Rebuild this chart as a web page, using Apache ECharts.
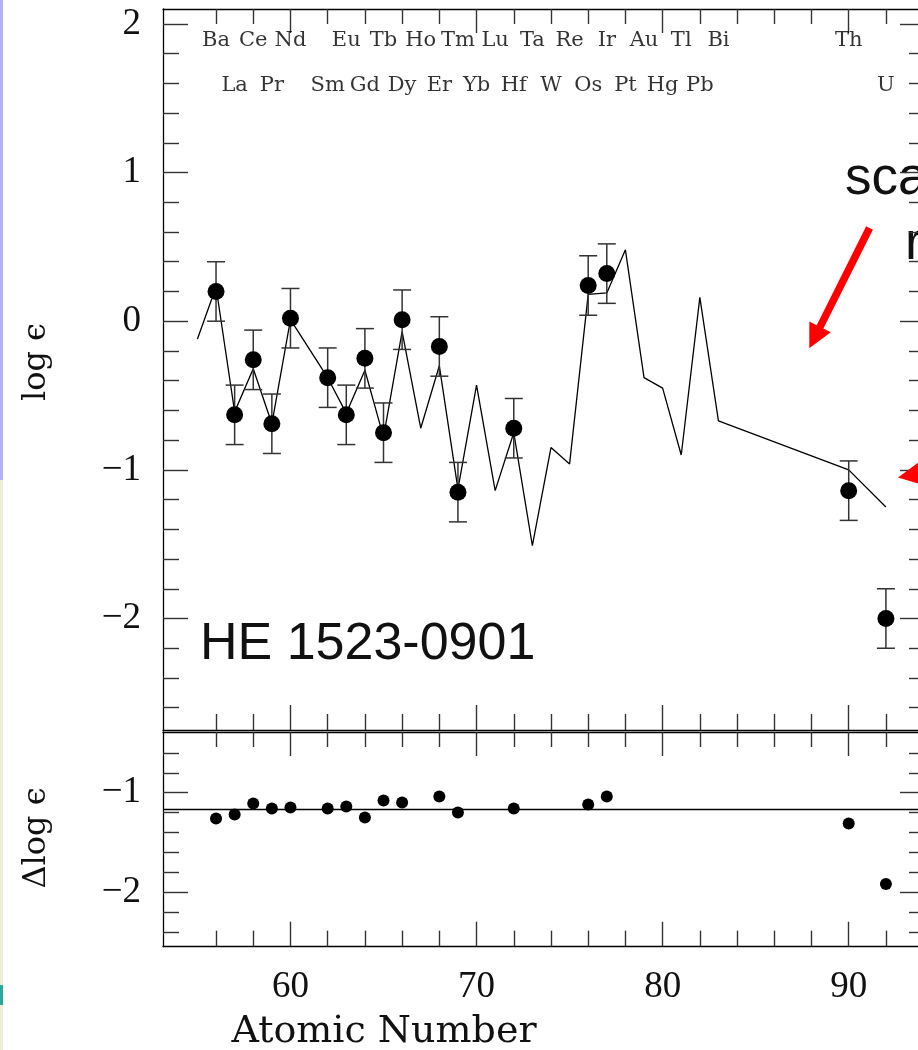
<!DOCTYPE html>
<html>
<head>
<meta charset="utf-8">
<script src="https://cdn.jsdelivr.net/npm/echarts@6/dist/echarts.min.js"></script>
<style>
  html, body { margin: 0; padding: 0; background: #fff; }
  #chart { width: 918px; height: 1050px; }
</style>
</head>
<body>
<div id="chart"></div>
<script>
// ---- Observed abundances of HE 1523-0901 ----
const obsElements = ['Ba','La','Ce','Pr','Nd','Sm','Eu','Gd','Tb','Dy','Er','Tm','Hf','Os','Ir','Th','U'];
const obsZ        = [56, 57, 58, 59, 60, 62, 63, 64, 65, 66, 68, 69, 72, 76, 77, 90, 92];
const obsLogEps   = [0.20,-0.63,-0.26,-0.69,0.02,-0.38,-0.63,-0.25,-0.75,0.01,-0.17,-1.15,-0.72,0.24,0.32,-1.14,-2.00];
const obsErr      = [0.20,0.20,0.20,0.20,0.20,0.20,0.20,0.20,0.20,0.20,0.20,0.20,0.20,0.20,0.20,0.20,0.20];

// ---- Residuals (observed minus scaled solar r-process) ----
const deltaLogEps = [-1.26,-1.22,-1.11,-1.16,-1.15,-1.16,-1.14,-1.25,-1.08,-1.10,-1.04,-1.20,-1.16,-1.12,-1.04,-1.31,-1.92];
const meanOffset  = -1.17;

// ---- Scaled solar r-process pattern ----
const solarZ      = [55, 56, 57, 58, 59, 60, 62, 63, 64, 65, 66, 67, 68, 69, 70, 71, 72, 73, 74, 75, 76, 77, 78, 79, 80, 81, 82, 83, 90, 92];
const solarLogEps = [-0.12,0.23,-0.61,-0.32,-0.69,0.01,-0.38,-0.62,-0.33,-0.78,-0.07,-0.72,-0.30,-1.13,-0.43,-1.14,-0.75,-1.51,-0.85,-0.96,0.18,0.19,0.48,-0.38,-0.45,-0.90,0.16,-0.67,-1.00,-1.25];

// ---- Element names along the top of the upper panel (two staggered rows) ----
const labelRow1     = ['Ba','Ce','Nd','Eu','Tb','Ho','Tm','Lu','Ta','Re','Ir','Au','Tl','Bi','Th'];
const labelRow1Z    = [56, 58, 60, 63, 65, 67, 69, 71, 73, 75, 77, 79, 81, 83, 90];
const labelRow2     = ['La','Pr','Sm','Gd','Dy','Er','Yb','Hf','W','Os','Pt','Hg','Pb','U'];
const labelRow2Z    = [57, 59, 62, 64, 66, 68, 70, 72, 74, 76, 78, 80, 82, 92];

// ---- Axis ticks ----
const xMajor     = [60, 70, 80, 90];
const xMinor     = [56, 58, 62, 64, 66, 68, 72, 74, 76, 78, 82, 84, 86, 88, 92];
const topYMajor  = [-2, -1, 0, 1, 2];
const topYMinor  = [-2.6,-2.4,-2.2,-1.8,-1.6,-1.4,-1.2,-0.8,-0.6,-0.4,-0.2,0.2,0.4,0.6,0.8,1.2,1.4,1.6,1.8];
const botYMajor  = [-2, -1];
const botYMinor  = [-2.4,-2.2,-1.8,-1.6,-1.4,-1.2,-0.8,-0.6];

// ---- Axis ranges ----
const X_RANGE   = [53.15, 94.1];
const TOP_RANGE = [-2.75, 2.1];
const BOT_RANGE = [-2.55, -0.39];
const ROW1_Y = 1.887, ROW2_Y = 1.587;   // element-name rows, in log eps units

const INK = '#111';
const TICK = '#333';
const NUM_FONT = 'Liberation Serif';
const TXT_FONT = 'DejaVu Serif';
const minusFmt = v => (v < 0 ? '\u2212' + Math.abs(v) : String(v));

function axisBase(gridIndex, range) {
  return {
    gridIndex, type: 'value', min: range[0], max: range[1],
    splitLine: { show: false },
    axisLine: { show: false, onZero: false },
    axisLabel: { show: false }
  };
}
function tickAxis(gridIndex, range, position, ticks, length, withLine, labels) {
  const a = axisBase(gridIndex, range);
  a.position = position;
  a.axisTick = { show: true, inside: true, length, customValues: ticks, lineStyle: { color: TICK, width: 1.4 } };
  if (withLine) a.axisLine = { show: true, onZero: false, lineStyle: { color: '#000', width: 1.3 } };
  if (labels) a.axisLabel = Object.assign({ show: true, customValues: ticks }, labels);
  return a;
}

const xLabelStyle = { fontFamily: NUM_FONT, fontSize: 37, color: INK, margin: 22, formatter: minusFmt };
const yLabelStyle = { fontFamily: NUM_FONT, fontSize: 37, color: INK, margin: 22, formatter: minusFmt };

const xAxes = [];
const yAxes = [];
[0, 1].forEach(g => {
  xAxes.push(tickAxis(g, X_RANGE, 'bottom', xMajor, 25, true, g === 1 ? xLabelStyle : null));
  xAxes.push(tickAxis(g, X_RANGE, 'bottom', xMinor, 16, false, null));
  xAxes.push(tickAxis(g, X_RANGE, 'top', xMajor, 24, true, null));
  xAxes.push(tickAxis(g, X_RANGE, 'top', xMinor, 15, false, null));
  const yr = g === 0 ? TOP_RANGE : BOT_RANGE;
  const maj = g === 0 ? topYMajor : botYMajor;
  const min = g === 0 ? topYMinor : botYMinor;
  yAxes.push(tickAxis(g, yr, 'left', maj, 25, true, yLabelStyle));
  yAxes.push(tickAxis(g, yr, 'left', min, 16, false, null));
  yAxes.push(tickAxis(g, yr, 'right', maj, 25, true, null));
  yAxes.push(tickAxis(g, yr, 'right', min, 16, false, null));
});

function errorBars(params, api) {
  const x = api.value(0), y = api.value(1), e = api.value(2);
  const hi = api.coord([x, y + e]);
  const lo = api.coord([x, y - e]);
  const half = 9;
  const st = { stroke: '#333', lineWidth: 1.5 };
  return {
    type: 'group',
    children: [
      { type: 'line', shape: { x1: hi[0], y1: hi[1], x2: lo[0], y2: lo[1] }, style: st },
      { type: 'line', shape: { x1: hi[0] - half, y1: hi[1], x2: hi[0] + half, y2: hi[1] }, style: st },
      { type: 'line', shape: { x1: lo[0] - half, y1: lo[1], x2: lo[0] + half, y2: lo[1] }, style: st }
    ]
  };
}

function arrowPoints(tail, tip, shaftW, headL, headW) {
  const dx = tip[0] - tail[0], dy = tip[1] - tail[1];
  const L = Math.hypot(dx, dy);
  const ux = dx / L, uy = dy / L, px = -uy, py = ux;
  const bx = tip[0] - ux * headL, by = tip[1] - uy * headL;
  return [
    [tail[0] + px * shaftW / 2, tail[1] + py * shaftW / 2],
    [bx + px * shaftW / 2, by + py * shaftW / 2],
    [bx + px * headW / 2, by + py * headW / 2],
    [tip[0], tip[1]],
    [bx - px * headW / 2, by - py * headW / 2],
    [bx - px * shaftW / 2, by - py * shaftW / 2],
    [tail[0] - px * shaftW / 2, tail[1] - py * shaftW / 2]
  ];
}

const labelData = labelRow1.map((s, i) => [labelRow1Z[i], ROW1_Y, s])
  .concat(labelRow2.map((s, i) => [labelRow2Z[i], ROW2_Y, s]));

const chart = echarts.init(document.getElementById('chart'), null, { renderer: 'canvas' });
chart.setOption({
  animation: false,
  backgroundColor: '#ffffff',
  grid: [
    { left: 163, top: 9, width: 762, height: 721, containLabel: false, outerBoundsMode: 'none' },
    { left: 163, top: 732, width: 762, height: 214.7, containLabel: false, outerBoundsMode: 'none' }
  ],
  xAxis: xAxes,
  yAxis: yAxes,
  series: [
    {
      name: 'scaled solar r-process',
      type: 'line', xAxisIndex: 0, yAxisIndex: 0,
      data: solarZ.map((z, i) => [z, solarLogEps[i]]),
      showSymbol: false, symbol: 'none', clip: true,
      lineStyle: { color: '#000', width: 1.3 },
      z: 2
    },
    {
      name: 'errors',
      type: 'custom', xAxisIndex: 0, yAxisIndex: 0,
      data: obsZ.map((z, i) => [z, obsLogEps[i], obsErr[i]]),
      renderItem: errorBars, encode: { x: 0, y: 1 }, clip: true,
      z: 3
    },
    {
      name: 'observed',
      type: 'scatter', xAxisIndex: 0, yAxisIndex: 0,
      data: obsZ.map((z, i) => [z, obsLogEps[i], obsElements[i]]),
      symbol: 'circle', symbolSize: 17,
      itemStyle: { color: '#000', opacity: 1 },
      z: 4
    },
    {
      name: 'element names',
      type: 'scatter', xAxisIndex: 0, yAxisIndex: 0,
      data: labelData,
      symbolSize: 0, silent: true,
      label: {
        show: true, position: 'inside',
        formatter: p => p.data[2],
        fontFamily: TXT_FONT, fontSize: 21, color: '#000'
      },
      z: 5
    },
    {
      name: 'residuals',
      type: 'scatter', xAxisIndex: 4, yAxisIndex: 4,
      data: obsZ.map((z, i) => [z, deltaLogEps[i]]),
      symbol: 'circle', symbolSize: 12,
      itemStyle: { color: '#000', opacity: 1 },
      markLine: {
        silent: true, symbol: ['none', 'none'],
        label: { show: false },
        lineStyle: { color: '#000', width: 1.3, type: 'solid' },
        data: [{ yAxis: meanOffset }]
      },
      z: 4
    }
  ],
  graphic: [
    // thin coloured strips along the left edge of the slide
    { type: 'rect', left: 0, top: 0, shape: { width: 3, height: 480 }, style: { fill: '#b4b4f4' }, silent: true },
    { type: 'rect', left: 0, top: 480, shape: { width: 3, height: 570 }, style: { fill: '#eeeed2' }, silent: true },
    { type: 'rect', left: 0, top: 985, shape: { width: 3, height: 20 }, style: { fill: '#2aa8a0' }, silent: true },
    // axis titles
    { type: 'text', x: 37, y: 362, rotation: Math.PI / 2, silent: true,
      style: { text: 'log \u03f5', font: '32px "' + TXT_FONT + '"', fill: INK, align: 'center', verticalAlign: 'middle' } },
    { type: 'text', x: 37, y: 838, rotation: Math.PI / 2, silent: true,
      style: { text: '\u0394log \u03f5', font: '32px "' + TXT_FONT + '"', fill: INK, align: 'center', verticalAlign: 'middle' } },
    { type: 'text', x: 384, y: 1032, silent: true,
      style: { text: 'Atomic Number', font: '38px "' + TXT_FONT + '"', fill: INK, align: 'center', verticalAlign: 'middle' } },
    // star name
    { type: 'text', x: 200, y: 645, silent: true,
      style: { text: 'HE 1523-0901', font: '52px "Liberation Sans"', fill: '#111', align: 'left', verticalAlign: 'middle' } },
    // annotation
    { type: 'text', x: 845, y: 179, silent: true,
      style: { text: 'scaled solar', font: '53px "Liberation Sans"', fill: '#111', align: 'left', verticalAlign: 'middle' } },
    { type: 'text', x: 905, y: 244, silent: true,
      style: { text: 'r-process', font: '53px "Liberation Sans"', fill: '#111', align: 'left', verticalAlign: 'middle' } },
    { type: 'polygon', silent: true, z: 10,
      shape: { points: arrowPoints([869.5, 228], [809.3, 348.3], 7.5, 24, 24) }, style: { fill: '#ff0000' } },
    { type: 'polygon', silent: true, z: 10,
      shape: { points: arrowPoints([1046, 451.4], [898, 477.5], 7.5, 24, 24) }, style: { fill: '#ff0000' } }
  ]
});
</script>
</body>
</html>
